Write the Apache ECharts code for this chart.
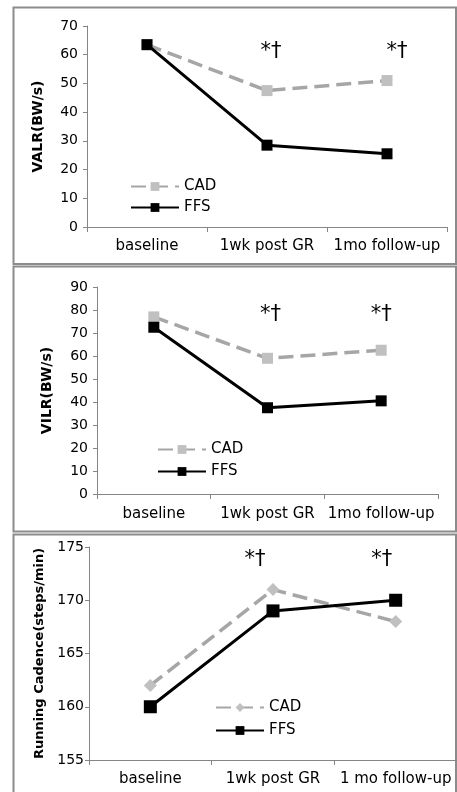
<!DOCTYPE html>
<html><head><meta charset="utf-8">
<script src="https://cdn.jsdelivr.net/npm/echarts@6/dist/echarts.min.js"></script>
<style>html,body{margin:0;padding:0;background:#fff}#c{width:457px;height:792px}</style>
</head><body><div id="c"></div>
<script>
// ---- data ----
const categories = ['baseline', '1wk post GR', '1mo follow-up'];
const categories3 = ['baseline', '1wk post GR', '1 mo follow-up'];
const valrCAD = [63.5, 47.5, 51];
const valrFFS = [63.5, 28.5, 25.5];
const vilrCAD = [77, 59, 62.5];
const vilrFFS = [72.5, 37.5, 40.5];
const cadenceCAD = [162, 171, 168];
const cadenceFFS = [160, 169, 170];
const yNames = ['VALR(BW/s)', 'VILR(BW/s)', 'Running Cadence(steps/min)'];
const yMin = [0, 0, 155];
const yMax = [70, 90, 175];
const yInterval = [10, 10, 5];
const sigMark = '*†';
const sigCats = [1, 2];
const sigLevel = [61, 78, 173.8];

const F = 'DejaVu Sans';
const axisGray = '#868686';
const cadColor = '#a6a6a6';
const cadMarker = '#c0c0c0';

const grids = [
  {left: 87, top: 26, width: 360, height: 201},
  {left: 97, top: 287, width: 341, height: 207},
  {left: 89, top: 547, width: 368, height: 213}
];
const catLists = [categories, categories, categories3];
const xAxes = grids.map((g, i) => ({
  type: 'category', gridIndex: i, data: catLists[i], boundaryGap: true,
  axisLine: {lineStyle: {color: axisGray, width: 1}},
  axisTick: {show: true, length: 5, lineStyle: {color: axisGray}},
  axisLabel: {color: '#000', fontSize: 15, fontFamily: F, margin: [12, 13, 12][i], interval: 0}
}));
const yAxes = grids.map((g, i) => ({
  type: 'value', gridIndex: i, min: yMin[i], max: yMax[i], interval: yInterval[i],
  name: yNames[i], nameLocation: 'middle', nameRotate: 90, nameGap: [42, 43, 39][i],
  nameTextStyle: {color: '#000', fontSize: [14, 14, 13][i], fontWeight: 'bold', fontFamily: F},
  axisLine: {show: true, lineStyle: {color: axisGray, width: 1}},
  axisTick: {show: true, length: 4, lineStyle: {color: axisGray}},
  splitLine: {show: false},
  axisLabel: {color: '#000', fontSize: 14, fontFamily: F, margin: [9, 9, 5][i]}
}));

const sigOffsets = [[[4, 0], [10, 0]], [[3, 0], [0, 0]], [[-18, 0], [-14, 0]]];
function sigMarkPoint(i) {
  return {
    symbol: 'rect', symbolSize: 1, itemStyle: {color: 'rgba(0,0,0,0)'},
    label: {show: true, position: 'inside', formatter: sigMark, color: '#000', fontSize: 21, fontFamily: F},
    data: sigCats.map((c, k) => ({coord: [c, sigLevel[i]], label: {offset: sigOffsets[i][k]}}))
  };
}
const cadSets = [valrCAD, vilrCAD, cadenceCAD];
const ffsSets = [valrFFS, vilrFFS, cadenceFFS];
const series = [];
for (let i = 0; i < 3; i++) {
  series.push({
    name: 'CAD' + (i + 1), type: 'line', xAxisIndex: i, yAxisIndex: i, data: cadSets[i],
    symbol: i === 2 ? 'diamond' : 'rect', symbolSize: i === 2 ? 13 : 11,
    itemStyle: {color: cadMarker},
    lineStyle: {color: cadColor, width: 3.5, type: [15, 7]},
    z: 2, animation: false
  });
  series.push({
    name: 'FFS' + (i + 1), type: 'line', xAxisIndex: i, yAxisIndex: i, data: ffsSets[i],
    symbol: 'rect', symbolSize: i === 2 ? 13 : 11,
    itemStyle: {color: '#000'},
    lineStyle: {color: '#000', width: 3},
    markPoint: sigMarkPoint(i),
    z: 3, animation: false
  });
}
const legendPos = [{left: 125, top: 174, gap: 6}, {left: 152, top: 437, gap: 7}, {left: 210, top: 695, gap: 8}];
const legends = legendPos.map((p, i) => ({
  orient: 'vertical', left: p.left, top: p.top, itemGap: p.gap,
  itemWidth: 48, itemHeight: 11, data: ['CAD' + (i + 1), 'FFS' + (i + 1)],
  formatter: n => n.replace(/\d/, ''),
  textStyle: {color: '#000', fontSize: 15, fontFamily: F}, selectedMode: false
}));
const borderStyle = {fill: 'none', stroke: '#8c8c8c', lineWidth: 2};
const chart = echarts.init(document.getElementById('c'), null, {renderer: 'canvas'});
chart.setOption({
  animation: false,
  backgroundColor: '#fff',
  grid: grids,
  xAxis: xAxes,
  yAxis: yAxes,
  legend: legends,
  series: series,
  graphic: [
    {type: 'rect', shape: {x: 13.5, y: 7.5, width: 442.5, height: 256.5}, style: borderStyle, silent: true},
    {type: 'rect', shape: {x: 13.5, y: 266.5, width: 442.5, height: 265}, style: borderStyle, silent: true},
    {type: 'rect', shape: {x: 13.5, y: 534.5, width: 442.5, height: 300}, style: borderStyle, silent: true}
  ]
});
</script></body></html>
